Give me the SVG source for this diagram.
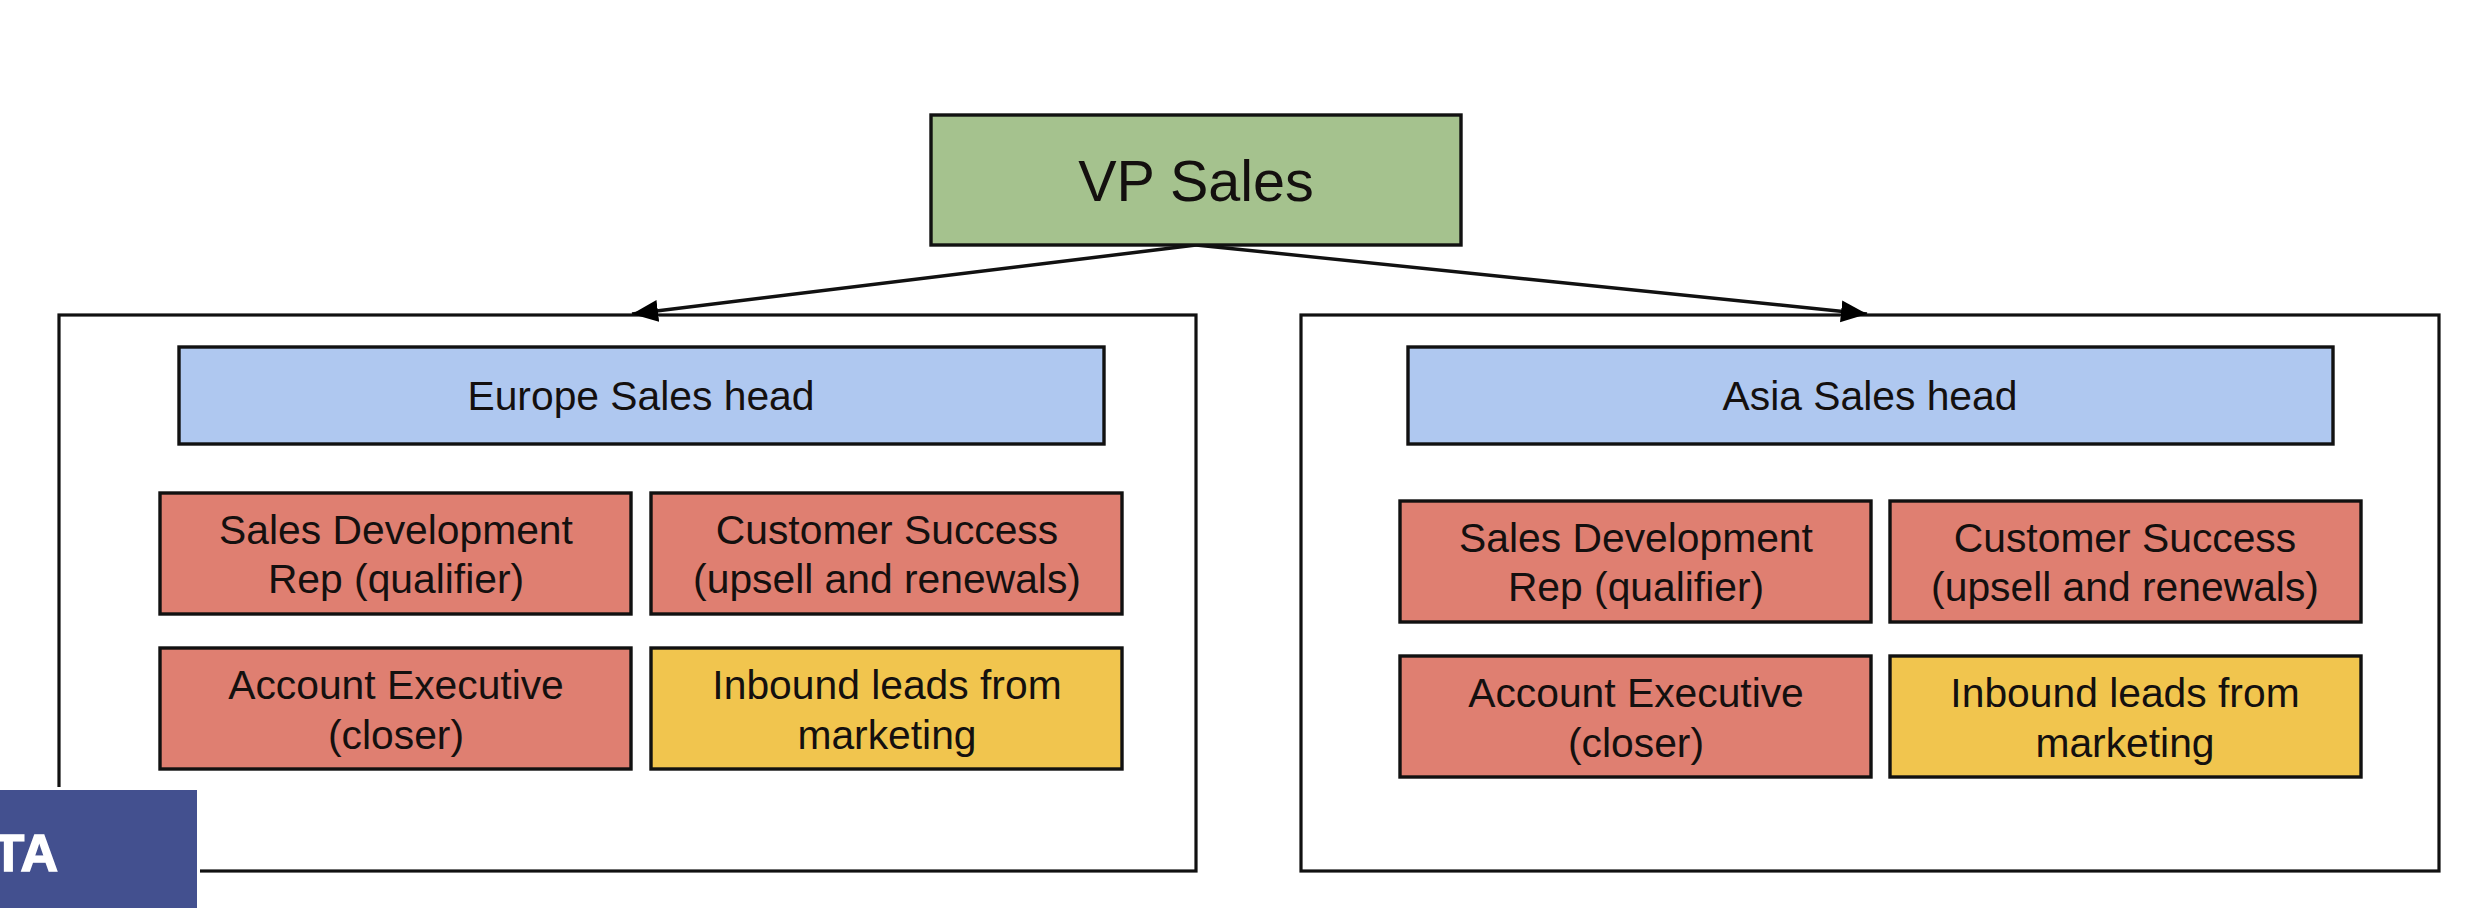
<svg xmlns="http://www.w3.org/2000/svg" width="2468" height="908" viewBox="0 0 2468 908">
<style>
text{font-family:"Liberation Sans",Arial,sans-serif;font-size:40.8px;fill:#14100f;text-anchor:middle}
.b{stroke:#111;stroke-width:3.4}
.frame{fill:#fff;stroke:#111;stroke-width:3.2}
.green{fill:#a5c28e}.blue{fill:#afc8f0}.red{fill:#df7f71}.yellow{fill:#f1c54e}
.conn{stroke:#111;stroke-width:3.5;fill:none;marker-end:url(#arrow)}
</style>
<defs>
<marker id="arrow" markerUnits="userSpaceOnUse" markerWidth="28" markerHeight="24" refX="26" refY="11" orient="auto"><path d="M0 0L26 11L0 22Z" fill="#000"/></marker>
</defs>
<rect width="2468" height="908" fill="#fff"/>
<g id="europe-frame"><rect class="frame" x="59" y="315" width="1137" height="556"/></g>
<g id="asia-frame"><rect class="frame" x="1301" y="315" width="1138" height="556"/></g>
<g id="connectors">
<line class="conn" x1="1196" y1="245" x2="632" y2="314"/>
<line class="conn" x1="1196" y1="245" x2="1867" y2="314"/>
</g>
<g id="vp-sales"><rect class="b green" x="931" y="115" width="530" height="130"/><text x="1196" y="201" style="font-size:57.5px">VP Sales</text></g>
<g id="europe-head"><rect class="b blue" x="179" y="347" width="925" height="97"/><text x="641" y="410">Europe Sales head</text></g>
<g id="eu-sdr"><rect class="b red" x="160" y="493" width="471" height="121"/><text x="396" y="544">Sales Development</text><text x="396" y="593">Rep (qualifier)</text></g>
<g id="eu-cs"><rect class="b red" x="651" y="493" width="471" height="121"/><text x="887" y="544">Customer Success</text><text x="887" y="593">(upsell and renewals)</text></g>
<g id="eu-ae"><rect class="b red" x="160" y="648" width="471" height="121"/><text x="396" y="699">Account Executive</text><text x="396" y="749">(closer)</text></g>
<g id="eu-inbound"><rect class="b yellow" x="651" y="648" width="471" height="121"/><text x="887" y="699">Inbound leads from</text><text x="887" y="749">marketing</text></g>
<g id="asia-head"><rect class="b blue" x="1408" y="347" width="925" height="97"/><text x="1870" y="410">Asia Sales head</text></g>
<g id="as-sdr"><rect class="b red" x="1400" y="501" width="471" height="121"/><text x="1636" y="552">Sales Development</text><text x="1636" y="601">Rep (qualifier)</text></g>
<g id="as-cs"><rect class="b red" x="1890" y="501" width="471" height="121"/><text x="2125" y="552">Customer Success</text><text x="2125" y="601">(upsell and renewals)</text></g>
<g id="as-ae"><rect class="b red" x="1400" y="656" width="471" height="121"/><text x="1636" y="707">Account Executive</text><text x="1636" y="757">(closer)</text></g>
<g id="as-inbound"><rect class="b yellow" x="1890" y="656" width="471" height="121"/><text x="2125" y="707">Inbound leads from</text><text x="2125" y="757">marketing</text></g>
<g id="logo"><rect x="0" y="787" width="200" height="121" fill="#fff"/><rect x="0" y="790" width="197" height="118" fill="#43508f"/><text x="58" y="871" style="font-size:52px;font-weight:bold;fill:#fff;stroke:#fff;stroke-width:1.5;text-anchor:end">TA</text></g>
</svg>
